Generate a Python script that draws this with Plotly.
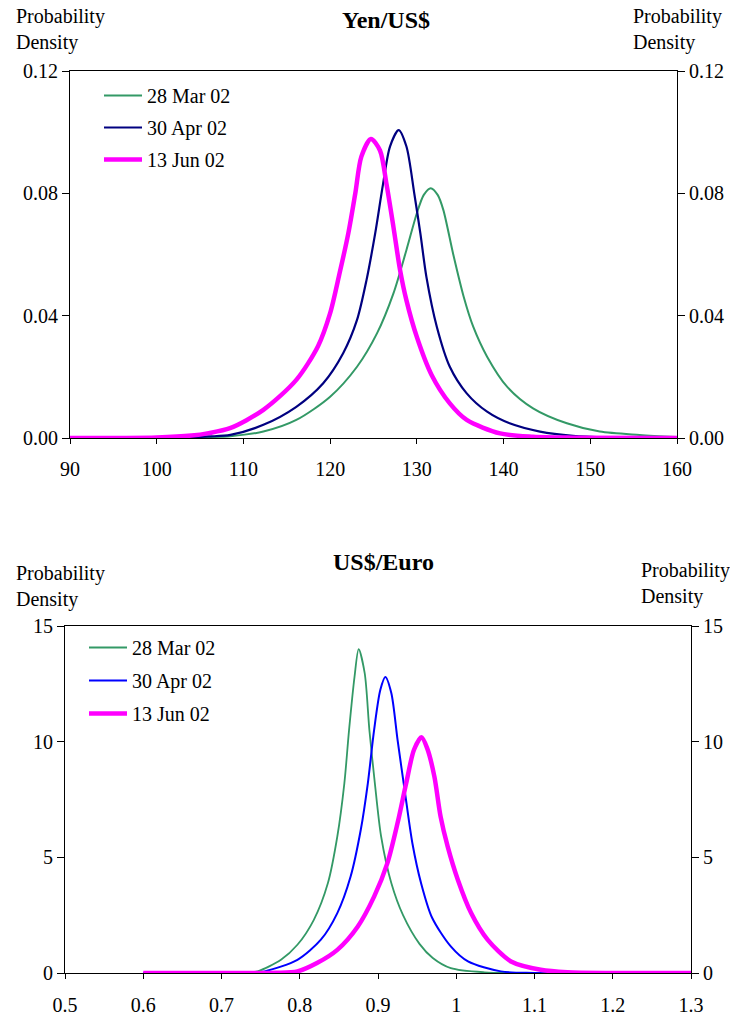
import plotly.graph_objects as go

# ---------------- Data: Yen/US$ ----------------
yen_mar_x = [90, 100, 104, 106, 108.5, 112.3, 116.1, 120.0, 123.1, 125.4, 127.3, 128.8, 130.0, 130.8, 131.6, 132.4,
             133.05, 134.2, 135.4, 136.5, 138.1, 140.4, 143.4, 147.3, 151.1, 155.7, 160]
yen_mar_y = [0, 0, 0.0001, 0.0003, 0.0006, 0.0021, 0.0059, 0.0135, 0.0233, 0.0342, 0.0473, 0.0615, 0.0735, 0.0795, 0.0817, 0.0795,
             0.0746, 0.060, 0.0462, 0.0364, 0.0266, 0.0168, 0.0097, 0.0048, 0.0021, 0.0010, 0.0003]

yen_apr_x = [90, 100, 104, 106, 108.5, 112.3, 116.1, 119.2, 121.5, 123.1, 124.2, 125.2, 126.1, 126.9, 127.9, 128.8,
             129.7, 130.4, 131.1, 132.3, 133.8, 135.75, 138.1, 140.7, 144.2, 148.0, 152, 160]
yen_apr_y = [0, 0, 0.0002, 0.0005, 0.0010, 0.0043, 0.0102, 0.0179, 0.0277, 0.0386, 0.0517, 0.067, 0.083, 0.0953, 0.1007, 0.0953,
             0.080, 0.067, 0.0527, 0.0364, 0.0233, 0.0146, 0.0086, 0.0048, 0.0021, 0.0007, 0.0002, 0]

yen_jun_x = [90, 100, 104, 106, 108.45, 112.3, 116.1, 118.6, 120.0, 121.1, 122.1, 122.9, 123.6, 124.7, 125.75, 126.5,
             127.3, 128.06, 128.8, 130.0, 131.7, 133.8, 135.75, 139.6, 143.4, 148, 160]
yen_jun_y = [0, 0.0002, 0.0008, 0.0016, 0.0032, 0.0092, 0.019, 0.030, 0.0408, 0.054, 0.067, 0.080, 0.092, 0.0978, 0.094, 0.083,
             0.069, 0.055, 0.045, 0.033, 0.0206, 0.0113, 0.0059, 0.0015, 0.0004, 0.0001, 0]

# ---------------- Data: US$/Euro ----------------
eur_mar_x = [0.6, 0.70, 0.73, 0.746, 0.776, 0.797, 0.818, 0.836, 0.848, 0.857, 0.863, 0.870, 0.8753, 0.883, 0.889,
             0.896, 0.904, 0.917, 0.932, 0.953, 0.970, 0.993, 1.036, 1.1, 1.3]
eur_mar_y = [0, 0, 0.01, 0.07, 0.57, 1.22, 2.3, 3.89, 5.9, 8.2, 10.5, 12.8, 14.0, 12.96, 10.5,
             8.2, 5.9, 3.89, 2.5, 1.26, 0.65, 0.21, 0.03, 0, 0]

eur_apr_x = [0.6, 0.70, 0.735, 0.755, 0.797, 0.827, 0.848, 0.865, 0.878, 0.887, 0.895, 0.903, 0.9094, 0.917, 0.925,
             0.934, 0.944, 0.955, 0.969, 0.993, 1.015, 1.057, 1.1, 1.3]
eur_apr_y = [0, 0, 0.01, 0.07, 0.57, 1.44, 2.59, 4.17, 6.19, 8.2, 10.5, 12.24, 12.79, 12.1, 10.08,
             7.92, 5.6, 3.89, 2.4, 1.15, 0.5, 0.07, 0, 0]

eur_jun_x = [0.6, 0.72, 0.77, 0.797, 0.822, 0.848, 0.874, 0.895, 0.912, 0.925, 0.936, 0.946, 0.9555, 0.963, 0.972,
             0.980, 0.989, 1.002, 1.019, 1.040, 1.070, 1.108, 1.142, 1.2, 1.3]
eur_jun_y = [0, 0, 0.01, 0.07, 0.43, 1.0, 2.0, 3.3, 4.75, 6.48, 8.2, 9.65, 10.19, 9.7, 8.5,
             6.76, 5.47, 4.03, 2.59, 1.44, 0.5, 0.14, 0.03, 0, 0]

labels = ["28 Mar 02", "30 Apr 02", "13 Jun 02"]
yen_ticks = [0, 0.04, 0.08, 0.12]
eur_ticks = [0, 5, 10, 15]
yen_xticks = [90, 100, 110, 120, 130, 140, 150, 160]
eur_xticks = [0.5, 0.6, 0.7, 0.8, 0.9, 1.0, 1.1, 1.2, 1.3]

W, H = 730, 1018
FONT = "Liberation Serif, Times New Roman, serif"
GREEN = "#339966"

def px_x(p):
    return p / W

def px_y(p):
    return 1 - p / H

fig = go.Figure()

# the last series of each panel is drawn against the right-hand axis (same range) so it is shown
top_series = [(yen_mar_x, yen_mar_y, GREEN, 2, "y"), (yen_apr_x, yen_apr_y, "#000080", 2.2, "y"),
              (yen_jun_x, yen_jun_y, "#FF00FF", 4.5, "y3")]
bot_series = [(eur_mar_x, eur_mar_y, GREEN, 1.8, "y2"), (eur_apr_x, eur_apr_y, "#0000FF", 2, "y2"),
              (eur_jun_x, eur_jun_y, "#FF00FF", 4.5, "y4")]

for i, (xs, ys, c, w, ya) in enumerate(top_series):
    fig.add_trace(go.Scatter(x=xs, y=ys, mode="lines", name=labels[i],
                             line=dict(color=c, width=w, shape="spline", smoothing=0.8),
                             xaxis="x", yaxis=ya, legend="legend", legendgroup="t%d" % i))
for i, (xs, ys, c, w, ya) in enumerate(bot_series):
    fig.add_trace(go.Scatter(x=xs, y=ys, mode="lines", name=labels[i],
                             line=dict(color=c, width=w, shape="spline", smoothing=0.8),
                             xaxis="x2", yaxis=ya, legend="legend2", legendgroup="b%d" % i))

tickfont = dict(family=FONT, size=20, color="black")
axis_common = dict(showgrid=False, zeroline=False, showline=True, linecolor="black", linewidth=1,
                   ticks="outside", tickcolor="black", tickfont=tickfont, automargin=False)
right_common = dict(showgrid=False, zeroline=False, showline=False, ticks="outside", tickcolor="black",
                    tickfont=tickfont, automargin=False, ticklen=7)

fig.update_layout(
    template="none",
    width=W, height=H, margin=dict(l=0, r=0, t=0, b=0, pad=0, autoexpand=False),
    paper_bgcolor="white", plot_bgcolor="white",
    font=dict(family=FONT, size=20, color="black"),
    xaxis=dict(domain=[px_x(70), px_x(677)], range=[90, 160], tickvals=yen_xticks, ticklen=5,
               ticklabelstandoff=8, mirror=True, anchor="y", **axis_common),
    yaxis=dict(domain=[px_y(438), px_y(71)], range=[0, 0.12], tickvals=yen_ticks, tickformat=".2f", ticklen=7,
               mirror=True, anchor="x", **axis_common),
    yaxis3=dict(overlaying="y", side="right", anchor="x", range=[0, 0.12], tickvals=yen_ticks, tickformat=".2f",
                **right_common),
    xaxis2=dict(domain=[px_x(65), px_x(691)], range=[0.5, 1.3], tickvals=eur_xticks, ticklen=5,
                ticklabelstandoff=9, mirror=True, anchor="y2", **axis_common),
    yaxis2=dict(domain=[px_y(973), px_y(626)], range=[0, 15], tickvals=eur_ticks, ticklen=7,
                mirror=True, anchor="x2", **axis_common),
    yaxis4=dict(overlaying="y2", side="right", anchor="x2", range=[0, 15], tickvals=eur_ticks,
                **right_common),
    legend=dict(x=px_x(99), y=px_y(76), xanchor="left", yanchor="top", bgcolor="rgba(0,0,0,0)",
                font=dict(family=FONT, size=20), tracegroupgap=3, itemwidth=38),
    legend2=dict(x=px_x(84), y=px_y(628), xanchor="left", yanchor="top", bgcolor="rgba(0,0,0,0)",
                 font=dict(family=FONT, size=20), tracegroupgap=4, itemwidth=38),
    showlegend=True,
)

ann = [
    dict(text="<b>Yen/US$</b>", x=px_x(386), y=px_y(20), font=dict(size=24)),
    dict(text="<b>US$/Euro</b>", x=px_x(384), y=px_y(562), font=dict(size=24)),
    dict(text="Probability<br>Density", x=px_x(14), y=px_y(3), xanchor="left", yanchor="top", align="left"),
    dict(text="Probability<br>Density", x=px_x(631), y=px_y(3), xanchor="left", yanchor="top", align="left"),
    dict(text="Probability<br>Density", x=px_x(14), y=px_y(560), xanchor="left", yanchor="top", align="left"),
    dict(text="Probability<br>Density", x=px_x(639), y=px_y(557), xanchor="left", yanchor="top", align="left"),
]
for a in ann:
    a.setdefault("xanchor", "center")
    a.setdefault("yanchor", "middle")
    a.update(xref="paper", yref="paper", showarrow=False)
    f = dict(family=FONT, size=20, color="black")
    f.update(a.get("font", {}))
    a["font"] = f
    fig.add_annotation(**a)

fig.write_html("out.html")
